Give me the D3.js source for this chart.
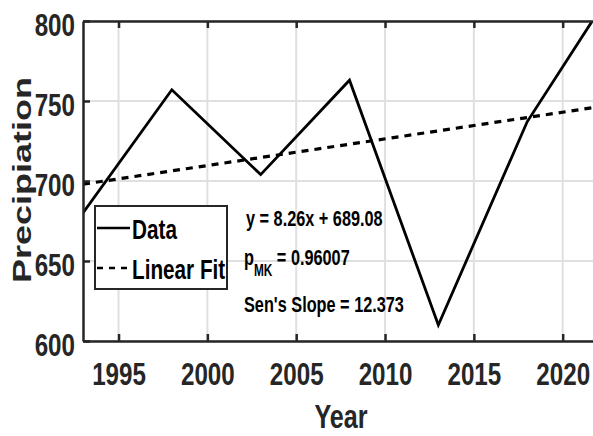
<!DOCTYPE html>
<html>
<head>
<meta charset="utf-8">
<script src="https://cdn.jsdelivr.net/npm/d3@7"></script>
<style>
  body { margin: 0; overflow: hidden; background: #fff; }
  text { font-family: "Liberation Sans", Arial, sans-serif; font-weight: bold; }
</style>
</head>
<body>
<script>
// data
var years = [1993, 1998, 2003, 2008, 2013, 2018, 2023];
var precip = [680, 757, 704, 763, 610, 737, 823];

// linear fit endpoints (y = 8.26x + 689.08, x = step index)
var fitYears = [1993, 2023];
var fitValues = [698, 748];

var xTicks = [1995, 2000, 2005, 2010, 2015, 2020];
var yTicks = [600, 650, 700, 750, 800];

var legendLabels = ['Data', 'Linear Fit'];
var statsLines = ['y = 8.26x + 689.08', 'p', 'Sen\'s Slope = 12.373'];

//setup graph size
var W = 593, H = 436;
var squeeze = 0.74; // glyphs look narrowed horizontally
var axisColor = '#262626';

var xScale = d3.scaleLinear().domain([1993, 2023]).range([83, 616]);
var yScale = d3.scaleLinear().domain([600, 800]).range([341, 21]);

var svg = d3.select('body').append('svg')
    .attr('width', W)
    .attr('height', H);

svg.append('defs').append('clipPath').attr('id', 'plotclip')
    .append('rect')
    .attr('x', xScale.range()[0]).attr('y', yScale.range()[1])
    .attr('width', xScale.range()[1] - xScale.range()[0])
    .attr('height', yScale.range()[0] - yScale.range()[1]);

//grid
var grid = svg.append('g');
grid.selectAll('line.vx').data(xTicks).enter().append('line')
    .attr('x1', d => xScale(d)).attr('x2', d => xScale(d))
    .attr('y1', yScale(600)).attr('y2', yScale(800))
    .attr('stroke', '#e0e0e0').attr('stroke-width', 2);
grid.selectAll('line.hy').data(yTicks).enter().append('line')
    .attr('x1', xScale(1993)).attr('x2', xScale(2023))
    .attr('y1', d => yScale(d)).attr('y2', d => yScale(d))
    .attr('stroke', '#e0e0e0').attr('stroke-width', 2);

//lines
var plot = svg.append('g').attr('clip-path', 'url(#plotclip)');
var line = d3.line().x(d => xScale(d[0])).y(d => yScale(d[1]));

plot.append('path')
    .datum(d3.zip(fitYears, fitValues))
    .attr('d', line)
    .attr('fill', 'none').attr('stroke', '#000')
    .attr('stroke-width', 3.2).attr('stroke-dasharray', '7,6');

plot.append('path')
    .datum(d3.zip(years, precip))
    .attr('d', line)
    .attr('fill', 'none').attr('stroke', '#000')
    .attr('stroke-width', 2.8).attr('stroke-linejoin', 'miter');

//axes (box with inward ticks)
var xAxis = d3.axisBottom(xScale).tickValues(xTicks).tickFormat(d3.format('d'))
    .tickSizeInner(-7).tickSizeOuter(0);
var xTop = d3.axisTop(xScale).tickValues(xTicks).tickFormat('')
    .tickSizeInner(-7).tickSizeOuter(0);
var yAxis = d3.axisLeft(yScale).tickValues(yTicks)
    .tickSizeInner(-7).tickSizeOuter(0);

var gx = svg.append('g').attr('transform', 'translate(0,' + yScale(600) + ')').call(xAxis);
var gxt = svg.append('g').attr('transform', 'translate(0,' + yScale(800) + ')').call(xTop);
var gy = svg.append('g').attr('transform', 'translate(' + xScale(1993) + ',0)').call(yAxis);

[gx, gxt, gy].forEach(function(g) {
    g.select('.domain').attr('stroke', axisColor).attr('stroke-width', 2.5);
    g.selectAll('.tick line').attr('stroke', axisColor).attr('stroke-width', 2.5);
});

gx.selectAll('.tick text')
    .attr('y', 0).attr('dy', null)
    .attr('transform', 'translate(0,44) scale(0.78,1)')
    .attr('fill', axisColor).style('font-size', '31px');

gy.selectAll('.tick text')
    .attr('x', 0).attr('dy', null)
    .attr('transform', 'translate(-8,14) scale(0.78,1)')
    .attr('fill', axisColor).style('font-size', '31px');

//axis labels
svg.append('text')
    .attr('transform', 'translate(341,428) scale(' + squeeze + ',1)')
    .attr('text-anchor', 'middle')
    .attr('fill', axisColor).style('font-size', '34px')
    .text('Year');

svg.append('text')
    .attr('transform', 'translate(31,180) scale(' + squeeze + ',1) rotate(-90)')
    .attr('text-anchor', 'middle')
    .attr('fill', axisColor).style('font-size', '36px')
    .text('Precipiation');

//legend
var legend = svg.append('g');
legend.append('rect')
    .attr('x', 95).attr('y', 206).attr('width', 132).attr('height', 83)
    .attr('fill', '#fff').attr('stroke', axisColor).attr('stroke-width', 2);

var legendRows = legend.selectAll('g.row').data(legendLabels).enter().append('g')
    .attr('transform', (d, i) => 'translate(0,' + (228 + i * 40) + ')');
legendRows.append('line')
    .attr('x1', 97).attr('x2', 130).attr('y1', 0).attr('y2', 0)
    .attr('stroke', '#000').attr('stroke-width', 2.6)
    .attr('stroke-dasharray', (d, i) => i === 1 ? '6,6' : null);
legendRows.append('text')
    .attr('transform', 'translate(132,11) scale(' + squeeze + ',1)')
    .attr('fill', '#000').style('font-size', '28px')
    .text(d => d);

//stats annotation
var stats = svg.append('g').attr('fill', '#000').style('font-size', '22px');
stats.append('text')
    .attr('transform', 'translate(246,226) scale(' + squeeze + ',1)')
    .text(statsLines[0]);
var pText = stats.append('text')
    .attr('transform', 'translate(244,265) scale(' + squeeze + ',1)');
pText.append('tspan').text('p');
pText.append('tspan').attr('dy', 11).style('font-size', '16px').text('MK');
pText.append('tspan').attr('dy', -11).text(' = 0.96007');
stats.append('text')
    .attr('transform', 'translate(244,312) scale(' + squeeze + ',1)')
    .text(statsLines[2]);
</script>
</body>
</html>
